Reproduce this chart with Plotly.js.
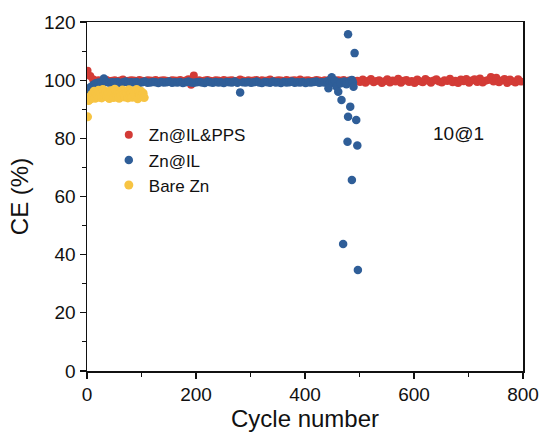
<!DOCTYPE html>
<html>
<head>
<meta charset="utf-8">
<script src="https://cdn.plot.ly/plotly-3.0.1.min.js"></script>
<style>html,body{margin:0;padding:0;background:#fff;}#chart{width:543px;height:434px;}</style>
</head>
<body>
<div id="chart"></div>
<script>
// Zn@IL&PPS: cycles 1, 6, 11, ... 796
const redStart = 1, redStep = 5;
const redCE = [
103.2, 101.4, 100.3, 99.8, 100.0, 99.6, 99.9, 100.1, 99.7, 99.8,
100.0, 99.6, 99.9, 100.2, 99.7, 99.8, 100.0, 99.9, 99.6, 100.1,
99.8, 99.7, 100.0, 99.9, 99.8, 100.1, 99.7, 99.9, 100.0, 99.8,
99.6, 100.0, 99.9, 99.8, 100.1, 99.7, 99.9, 100.3, 98.4, 101.6,
99.8, 100.0, 99.7, 99.9, 100.1, 99.8, 99.6, 100.0, 99.9, 99.7,
100.1, 99.8, 99.9, 100.0, 99.7, 99.8, 100.2, 99.9, 99.6, 100.0,
99.8, 99.9, 100.1, 99.7, 100.0, 99.8, 99.9, 100.2, 99.7, 99.8,
100.0, 99.9, 99.6, 100.1, 99.8, 99.9, 100.0, 99.7, 100.2, 99.8,
99.9, 100.0, 99.7, 99.8, 100.1, 99.9, 99.6, 100.0, 99.8, 100.2,
99.7, 99.9, 100.0, 99.8, 100.1, 99.6, 99.9, 100.0, 99.7, 99.8,
99.4, 100.2, 99.1, 99.8, 100.4, 99.3, 99.7, 100.0, 99.0, 99.6,
100.3, 99.2, 99.9, 99.5, 100.5, 99.1, 99.8, 100.1, 99.4, 99.7,
99.0, 100.2, 99.6, 99.3, 100.4, 99.8, 99.1, 99.9, 100.3, 99.5,
99.2, 100.0, 99.7, 100.5, 99.3, 99.8, 99.0, 100.2, 99.6, 100.4,
99.1, 99.9, 100.3, 99.4, 100.6, 99.2, 99.8, 100.1, 101.1, 99.5,
100.8, 99.3, 99.9, 100.4, 99.0, 100.2, 99.6, 99.2, 100.3, 99.5
];

// Zn@IL: cycles 1, 6, ... 466, then the failure region
const blueStart = 1, blueStep = 5;
const blueCE = [
96.4, 97.6, 98.3, 98.9, 99.2, 99.0, 100.6, 99.4, 99.1, 99.3,
99.2, 99.4, 99.0, 99.3, 99.5, 99.1, 99.3, 99.2, 99.4, 99.0,
99.3, 99.5, 99.1, 99.2, 99.4, 99.3, 99.0, 99.4, 99.2, 99.3,
99.5, 99.1, 99.3, 99.2, 99.4, 99.0, 99.3, 99.5, 99.2, 99.1,
99.3, 99.4, 99.2, 99.0, 99.5, 99.3, 99.1, 99.4, 99.2, 99.3,
99.0, 99.4, 99.3, 99.2, 99.5, 99.1, 95.8, 99.3, 99.2, 99.4,
99.1, 99.3, 99.5, 99.2, 99.0, 99.4, 99.3, 99.1, 99.5, 99.2,
99.3, 99.0, 99.4, 99.2, 99.3, 99.5, 99.1, 99.3, 99.2, 99.4,
99.0, 99.3, 99.2, 99.4, 99.5, 99.1, 99.3, 99.2, 99.6, 99.3,
99.1, 99.4, 99.2, 99.3
];
const blueTailCycles = [443, 449, 455, 458, 461, 465, 467, 470, 472, 475, 476, 478, 479, 479, 482, 483, 486, 486, 488, 489, 491, 494, 496, 497];
const blueTailCE     = [97.2, 101.0, 99.8, 97.7, 96.0, 98.9, 93.2, 43.7, 99.5, 99.0, 98.6, 78.8, 115.8, 87.4, 99.6, 90.9, 65.7, 100.1, 99.3, 97.7, 109.3, 86.3, 77.5, 34.7];

// Bare Zn: cycles 1, 3, 5, ... 105
const yellowStart = 1, yellowStep = 2;
const yellowCE = [
87.4, 93.0, 94.2, 93.6, 95.1, 94.0, 96.2, 93.8, 95.4, 94.6,
96.5, 94.1, 95.8, 93.9, 96.8, 94.5, 95.2, 96.0, 94.3, 95.7,
93.7, 96.4, 94.9, 95.5, 94.0, 96.9, 95.1, 94.4, 96.1, 93.8,
95.9, 94.7, 96.6, 95.0, 94.2, 96.3, 95.4, 93.9, 96.7, 94.8,
95.6, 94.1, 96.0, 95.3, 94.5, 96.8, 93.6, 95.8, 94.9, 96.2,
94.3, 95.5, 94.0
];

const seriesNames = ['Zn@IL&PPS', 'Zn@IL', 'Bare Zn'];
const xTicks = [0, 200, 400, 600, 800];
const yTicks = [0, 20, 40, 60, 80, 100, 120];
const annotationText = '10@1';

const cyc = (start, step, n) => Array.from({length: n}, (_, i) => start + i * step);

const redX = cyc(redStart, redStep, redCE.length);
const blueX = cyc(blueStart, blueStep, blueCE.length).concat(blueTailCycles);
const blueY = blueCE.concat(blueTailCE);
const yellowX = cyc(yellowStart, yellowStep, yellowCE.length);

const font = 'Arial, "Liberation Sans", sans-serif';

const traces = [
  {x: redX, y: redCE, name: seriesNames[0], mode: 'markers', type: 'scatter',
   marker: {color: '#d33b36', size: 8, line: {width: 0}}},
  {x: blueX, y: blueY, name: seriesNames[1], mode: 'markers', type: 'scatter',
   marker: {color: '#2f5e98', size: 8.5, line: {width: 0}}},
  {x: yellowX, y: yellowCE, name: seriesNames[2], mode: 'markers', type: 'scatter',
   marker: {color: '#f7c443', size: 9, line: {width: 0}}}
];

const layout = {
  width: 543, height: 434,
  margin: {l: 87, r: 20, t: 22, b: 63},
  paper_bgcolor: '#fff', plot_bgcolor: '#fff',
  font: {family: font, color: '#111', size: 19},
  showlegend: true,
  legend: {x: 0.05, y: 0.727, xanchor: 'left', yanchor: 'top', bgcolor: 'rgba(0,0,0,0)',
           font: {family: font, size: 17, color: '#111'}, itemwidth: 30, tracegroupgap: 0},
  xaxis: {range: [0, 800], tickvals: xTicks, ticktext: xTicks.map(String),
          showgrid: false, zeroline: false, showline: true, linecolor: '#111', linewidth: 1.5,
          mirror: true, ticks: 'outside', ticklen: 6, tickwidth: 1.2, tickcolor: '#111',
          tickfont: {family: font, size: 19, color: '#111'},
          minor: {dtick: 100, ticks: 'outside', ticklen: 4, tickwidth: 1, tickcolor: '#111', showgrid: false},
          title: {text: 'Cycle number', font: {family: font, size: 24, color: '#111'}, standoff: 1}},
  yaxis: {range: [0, 120], tickvals: yTicks, ticktext: yTicks.map(String),
          showgrid: false, zeroline: false, showline: true, linecolor: '#111', linewidth: 1.5,
          mirror: true, ticks: 'outside', ticklen: 6, tickwidth: 1.2, tickcolor: '#111',
          tickfont: {family: font, size: 19, color: '#111'},
          minor: {dtick: 10, ticks: 'outside', ticklen: 4, tickwidth: 1, tickcolor: '#111', showgrid: false},
          title: {text: 'CE (%)', font: {family: font, size: 24, color: '#111'}, standoff: 8}},
  annotations: [{x: 682, y: 81.5, xref: 'x', yref: 'y', text: annotationText, showarrow: false,
                 font: {family: font, size: 19, color: '#111'}}]
};

Plotly.newPlot('chart', traces, layout, {displayModeBar: false, staticPlot: true});
</script>
</body>
</html>
